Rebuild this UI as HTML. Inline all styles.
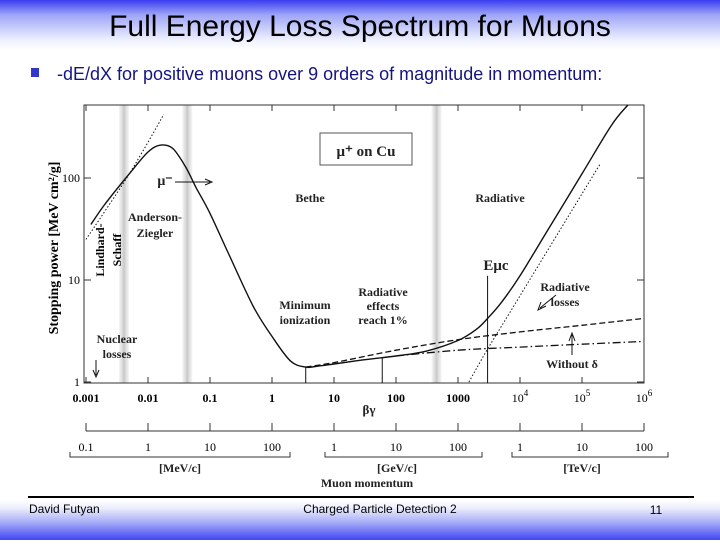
<!DOCTYPE html>
<html><head><meta charset="utf-8"><style>
body{margin:0;width:720px;height:540px;overflow:hidden;background:#fff;font-family:"Liberation Sans",sans-serif}
#slide{position:relative;width:720px;height:540px;background:linear-gradient(to bottom,#3a3cf0 0px,#9fa6f7 15px,#eef0fd 40px,#fff 50px,#fff 500px,#eceefc 508px,#a9aef8 522px,#3f45f2 540px)}
svg text{font-family:"Liberation Serif",serif}
</style></head><body>
<div id="slide">
<svg width="720" height="540">
<defs><linearGradient id="bandg" x1="0" x2="1"><stop offset="0" stop-color="#ddd" stop-opacity="0.3"/><stop offset="0.5" stop-color="#c8c8c8"/><stop offset="1" stop-color="#ddd" stop-opacity="0.3"/></linearGradient></defs>
<text x="360" y="36" text-anchor="middle" font-size="30" style="font-family:'Liberation Sans',sans-serif" fill="#000">Full Energy Loss Spectrum for Muons</text>
<rect x="31" y="68" width="8" height="9" fill="#3337c8"/>
<text x="57" y="80" font-size="18" style="font-family:'Liberation Sans',sans-serif" fill="#151580">-dE/dX for positive muons over 9 orders of magnitude in momentum:</text>
<g id="chart"></g>
<line x1="28" y1="497" x2="694" y2="497" stroke="#000" stroke-width="2"/>
<text x="29" y="513" font-size="12" style="font-family:'Liberation Sans',sans-serif">David Futyan</text>
<text x="380" y="513" font-size="12" text-anchor="middle" style="font-family:'Liberation Sans',sans-serif">Charged Particle Detection 2</text>
<text x="656" y="514" font-size="12" text-anchor="middle" style="font-family:'Liberation Sans',sans-serif">11</text>
</svg></div>
<script>
const xTicks=[0.001,0.01,0.1,1,10,100,1000,1e4,1e5,1e6];
const xTickLabels=["0.001","0.01","0.1","1","10","100","1000","10^4","10^5","10^6"];
const yTicks=[1,10,100];
const pLabels=["0.1","1","10","100","1","10","100","1","10","100"];
const mainX=[0.0012,0.002,0.005,0.01,0.016,0.025,0.04,0.06,0.1,0.2,0.5,1,2,3.5,5,10,30,100,300,1000,2000,3000,5000,1e4,3e4,1e5,3e5,5.5e5];
const mainY=[35,55,110,180,210,195,130,80,45,18,5.5,2.8,1.6,1.4,1.42,1.5,1.65,1.8,2.0,2.55,3.3,4.2,6,11,33,110,330,520];
const dashX=[3.5,10,100,1000,1e4,1e5,1e6];
const dashY=[1.4,1.55,2.05,2.6,3.1,3.6,4.2];
const ddX=[100,1000,1e4,1e5,1e6];
const ddY=[1.8,2.05,2.2,2.35,2.5];
const radX=[1500,3000,1e4,1e5,2e5];
const radY=[1,2.1,7,70,140];
const lsX=[0.001,0.005,0.018];
const lsY=[25,110,420];
const bands=[0.0041,0.043,450];
const vlines=[[3.5,1.4],[60,1.75],[3000,11]];
const X=v=>86+62*(Math.log10(v)+3);
const Y=v=>382-102*Math.log10(v);
const NS="http://www.w3.org/2000/svg";
const g=document.getElementById('chart');
function mk(t,a,txt){const e=document.createElementNS(NS,t);for(const k in a)e.setAttribute(k,a[k]);if(txt!==undefined)e.textContent=txt;g.appendChild(e);return e;}
bands.forEach(b=>{const e=mk('rect',{x:X(b)-5,y:105,width:10,height:278,fill:'url(#bandg)'});

});
const fr=mk('rect',{x:84,y:105,width:560,height:278,fill:'none',stroke:'#333','stroke-width':1});


xTicks.forEach((v,i)=>{
 mk('line',{x1:X(v),y1:383,x2:X(v),y2:377,stroke:'#333'});
 mk('line',{x1:X(v),y1:105,x2:X(v),y2:111,stroke:'#333'});
 const lab=xTickLabels[i];let t;
 if(lab.includes('^')){const p=lab.split('^');t=mk('text',{x:X(v),y:402,'font-size':12,'text-anchor':'middle'});t.innerHTML=p[0]+'<tspan dy="-6" font-size="9">'+p[1]+'</tspan>';}
 else t=mk('text',{x:X(v),y:402,'font-size':12,'text-anchor':'middle','font-weight':'bold'},lab);
 
 
 mk('line',{x1:X(v),y1:423,x2:X(v),y2:431,stroke:'#333'});
 const pl=mk('text',{x:X(v),y:451,'font-size':12,'text-anchor':'middle'},pLabels[i]);
 
 
});
mk('line',{x1:86,y1:431,x2:644,y2:431,stroke:'#333'});
yTicks.forEach(v=>{mk('line',{x1:84,y1:Y(v),x2:91,y2:Y(v),stroke:'#333'});mk('line',{x1:644,y1:Y(v),x2:637,y2:Y(v),stroke:'#333'});
 const t=mk('text',{x:80,y:Y(v)+4,'font-size':12,'text-anchor':'end'},String(v));
 
 });
[[70,290],[325,482],[512,668]].forEach(b=>mk('path',{d:`M${b[0]} 452V457H${b[1]}V452`,fill:'none',stroke:'#333'}));
function smooth(pts){let d='M'+pts[0][0].toFixed(1)+' '+pts[0][1].toFixed(1);
 for(let i=0;i<pts.length-1;i++){const p0=pts[Math.max(0,i-1)],p1=pts[i],p2=pts[i+1],p3=pts[Math.min(pts.length-1,i+2)];
  const c1=[p1[0]+(p2[0]-p0[0])/6,p1[1]+(p2[1]-p0[1])/6],c2=[p2[0]-(p3[0]-p1[0])/6,p2[1]-(p3[1]-p1[1])/6];
  d+=`C${c1[0].toFixed(1)} ${c1[1].toFixed(1)} ${c2[0].toFixed(1)} ${c2[1].toFixed(1)} ${p2[0].toFixed(1)} ${p2[1].toFixed(1)}`;}
 return d;}
function line(xs,ys,dash,name,w){const pts=xs.map((x,i)=>[X(x),Y(ys[i])]);
 const e=mk('path',{d:smooth(pts),fill:'none',stroke:'#111','stroke-width':w||1.3,'stroke-dasharray':dash||'none','stroke-linejoin':'round'});
 
 }
line(radX,radY,'1.5,2','radiative-loss-line',1);
line(lsX,lsY,'1.5,2','lindhard-line',1);
line(dashX,dashY,'6,3','no-radiative-line');
line(ddX,ddY,'8,3,1.5,3','without-delta-line');
line(mainX,mainY,null,'total-stopping-curve',1.4);
vlines.forEach(v=>mk('line',{x1:X(v[0]),y1:383,x2:X(v[0]),y2:Y(v[1]),stroke:'#111'}));
const box=mk('rect',{x:320,y:133,width:92,height:32,fill:'#fff',stroke:'#555'});


const labels=[[366,156,'μ⁺ on Cu',15,'middle'],[310,202,'Bethe',12,'middle'],[500,202,'Radiative',12,'middle'],
[165,185,'μ⁻',14,'middle'],[155,221,'Anderson-',12,'middle'],[155,237,'Ziegler',12,'middle'],
[117,343,'Nuclear',12,'middle'],[117,358,'losses',12,'middle'],[305,309,'Minimum',12,'middle'],[305,324,'ionization',12,'middle'],
[383,296,'Radiative',12,'middle'],[383,310,'effects',12,'middle'],[383,324,'reach 1%',12,'middle'],
[565,291,'Radiative',12,'middle'],[565,306,'losses',12,'middle'],[572,368,'Without δ',12,'middle'],[496,270,'Eμc',15,'middle'],
[369,414,'βγ',13,'middle'],[180,472,'[MeV/c]',12,'middle'],[397,472,'[GeV/c]',12,'middle'],[582,472,'[TeV/c]',12,'middle'],[367,487,'Muon momentum',12,'middle']];
labels.forEach(l=>{const t=mk('text',{x:l[0],y:l[1],'font-size':l[3],'text-anchor':l[4],'font-weight':'bold',fill:'#222'},l[2]);
 
 });
[['Lindhard-',104],['Schaff',121]].forEach(a=>{const t=mk('text',{x:0,y:0,'font-size':12,'font-weight':'bold','text-anchor':'middle',transform:`translate(${a[1]},250) rotate(-90)`},a[0]);
 
 });
const yt=mk('text',{x:0,y:0,'font-size':14,'font-weight':'bold','text-anchor':'middle',transform:'translate(58,248) rotate(-90)'},'Stopping power [MeV cm²/g]');


mk('path',{d:'M175 182H210M205 179L212 182L205 185',fill:'none',stroke:'#111'});
mk('path',{d:'M96 360V375M93 370L96 377L99 370',fill:'none',stroke:'#111'});
mk('path',{d:'M556 295L540 308M541 302L538 310L546 306',fill:'none',stroke:'#111'});
mk('path',{d:'M572 355V335M569 341L572 333L575 341',fill:'none',stroke:'#111'});
</script>
</body></html>
